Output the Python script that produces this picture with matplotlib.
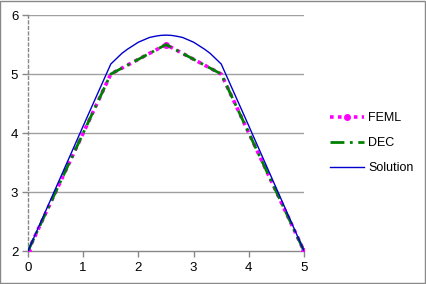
import matplotlib
matplotlib.use("Agg")
import matplotlib.pyplot as plt
from matplotlib.patches import Rectangle

# Data
x_fe = [0, 1.5, 2.5, 3.5, 5]
feml = [2.0, 5.0, 5.5, 5.0, 2.0]
dec = [2.0, 5.0, 5.5, 5.0, 2.0]
x_sol = [0, 0.5, 1.0, 1.5, 1.6, 1.7, 1.8, 1.9, 2.0, 2.1, 2.2, 2.3, 2.4, 2.5,
         2.6, 2.7, 2.8, 2.9, 3.0, 3.1, 3.2, 3.3, 3.4, 3.5, 4.0, 4.5, 5.0]
solution = [2.0, 3.06, 4.12, 5.17, 5.26, 5.35, 5.42, 5.48, 5.54, 5.58, 5.62, 5.64, 5.655, 5.66,
            5.655, 5.64, 5.62, 5.58, 5.54, 5.48, 5.42, 5.35, 5.26, 5.17, 4.12, 3.06, 2.0]
xticks = [0, 1, 2, 3, 4, 5]
yticks = [2, 3, 4, 5, 6]

plt.rcParams['font.family'] = ['Liberation Sans', 'DejaVu Sans']
fig = plt.figure(figsize=(4.26, 2.84), dpi=100)
fig.patches.append(Rectangle((0.001, 0.002), 0.997, 0.995, transform=fig.transFigure,
                             fill=False, edgecolor='#888888', linewidth=1.0))
ax = fig.add_axes([0.0657, 0.116, 0.648, 0.831])

for y in yticks[1:]:
    ax.axhline(y, color='#a0a0a0', linewidth=1.0, zorder=0)

ax.plot(x_fe, feml, color='#ff00ff', linestyle=(0, (1, 1.2)), linewidth=2.6,
        marker='o', markersize=4, markevery=[0, 2, 4], markerfacecolor='#ff00ff',
        markeredgecolor='#ff00ff', label='FEML', zorder=3)
ax.plot(x_fe, dec, color='#008000', linestyle=(0, (5, 2, 1, 2)), linewidth=2.0,
        label='DEC', zorder=4)
ax.plot(x_sol, solution, color='#0000cc', linewidth=1.0, label='Solution', zorder=5)

ax.set_xlim(0, 5)
ax.set_ylim(2, 6)
ax.set_xticks(xticks)
ax.set_yticks(yticks)
ax.tick_params(axis='both', labelsize=9.5, color='#888888', length=4, width=1.0)
ax.tick_params(axis='y', pad=3)
ax.tick_params(axis='x', pad=4)
for s in ['top', 'right']:
    ax.spines[s].set_visible(False)
ax.spines['left'].set_linestyle((0, (2, 2)))
ax.spines['left'].set_color('#888888')
ax.spines['left'].set_linewidth(1.0)
ax.spines['bottom'].set_color('#888888')
ax.spines['bottom'].set_linewidth(1.0)

leg = fig.legend(loc='upper left', bbox_to_anchor=(0.748, 0.645), frameon=False,
                 fontsize=9, handlelength=2.7, labelspacing=1.05, handletextpad=0.35)

fig.savefig('out.png', dpi=100)
